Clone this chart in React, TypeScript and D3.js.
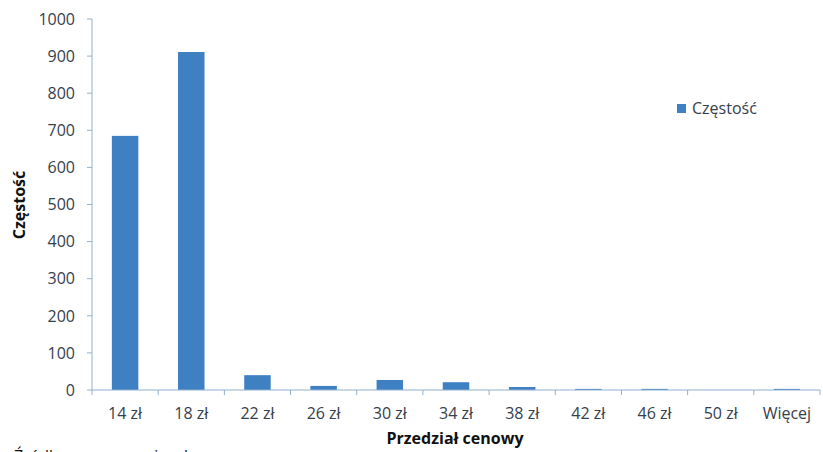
import React from "react";
import * as d3 from "d3";

// Price bins and their counts
const categories = ["14 zł", "18 zł", "22 zł", "26 zł", "30 zł", "34 zł", "38 zł", "42 zł", "46 zł", "50 zł", "Więcej"];
const counts = [685, 911, 40, 11, 27, 21, 8, 3, 3, 0, 3];
const yTicks = [0, 100, 200, 300, 400, 500, 600, 700, 800, 900, 1000];

const seriesName = "Częstość";
const xTitle = "Przedział cenowy";
const yTitle = "Częstość";
const sourceNote = "Źródło: opracowanie własne";

const W = 823;
const H = 452;
const FONT = "'Open Sans', 'DejaVu Sans', sans-serif";
const TEXT = "#36404c";
const AXIS = "#8fb0cf";
const BAR = "#3f80c2";

export default function App() {
  const left = 92;
  const right = 820;
  const top = 19;
  const bottom = 390;

  const x = d3.scaleBand<string>().domain(categories).range([left, right]);
  const bandStep = x.step();
  const y = d3.scaleLinear().domain([0, 1000]).range([bottom, top]);

  const boundaries = d3.range(categories.length + 1).map((i) => left + i * bandStep);
  const center = (c: string) => (x(c) ?? 0) + bandStep / 2;
  const barW = bandStep / 2.5;

  return (
    <svg width={W} height={H} style={{ position: "absolute", left: 0, top: 0, background: "#fff" }}>
      {/* y axis */}
      <line x1={left} x2={left} y1={top} y2={bottom} stroke={AXIS} strokeWidth={1} />
      {yTicks.map((t) => (
        <g key={t}>
          <line x1={left - 5} x2={left} y1={y(t)} y2={y(t)} stroke={AXIS} />
          <text x={75} y={y(t)} dy="0.36em" textAnchor="end" fontFamily={FONT} fontSize={16} fill={TEXT}>
            {t}
          </text>
        </g>
      ))}

      {/* bars */}
      {categories.map((c, i) => (
        <rect
          key={c}
          x={center(c) - barW / 2}
          y={y(counts[i])}
          width={barW}
          height={bottom - y(counts[i])}
          fill={BAR}
        />
      ))}

      {/* x axis */}
      <line x1={left} x2={right} y1={bottom} y2={bottom} stroke={AXIS} strokeWidth={1} />
      {boundaries.map((b, i) => (
        <line key={i} x1={b} x2={b} y1={bottom} y2={bottom + 5} stroke={AXIS} />
      ))}
      {categories.map((c) => (
        <text key={c} x={center(c)} y={419} textAnchor="middle" fontFamily={FONT} fontSize={16} fill={TEXT}>
          {c}
        </text>
      ))}

      {/* axis titles */}
      <text x={455} y={444} textAnchor="middle" fontFamily={FONT} fontSize={16} fontWeight="bold" fill="#111">
        {xTitle}
      </text>
      <text
        transform={`translate(25, 205) rotate(-90)`}
        textAnchor="middle"
        fontFamily={FONT}
        fontSize={16}
        fontWeight="bold"
        fill="#111"
      >
        {yTitle}
      </text>

      {/* legend */}
      <rect x={677} y={104} width={9} height={9} fill={BAR} />
      <text x={692} y={114} fontFamily={FONT} fontSize={16} fill={TEXT}>
        {seriesName}
      </text>

      {/* source note, running off the bottom edge */}
      <text x={14} y={462} fontFamily={FONT} fontSize={16} fill="#111">
        {sourceNote}
      </text>
    </svg>
  );
}
